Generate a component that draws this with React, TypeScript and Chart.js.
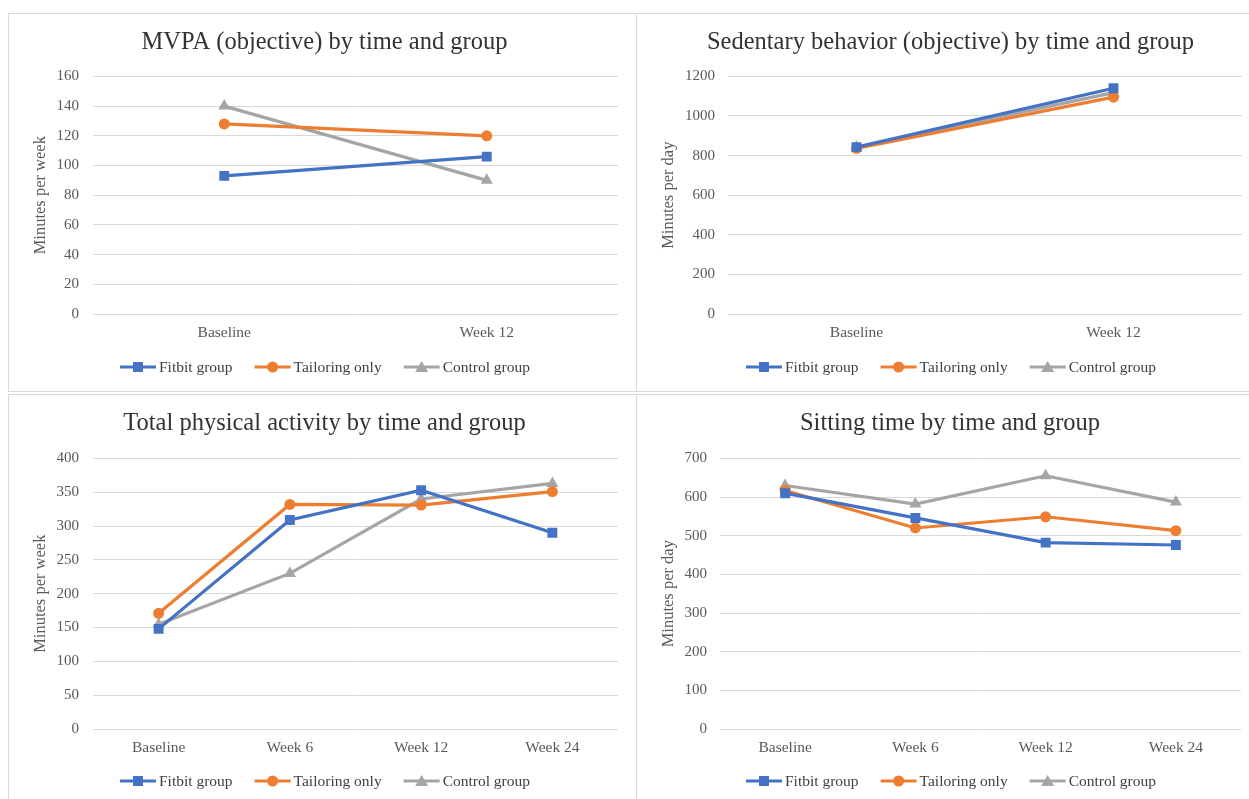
import React, { useEffect, useRef } from 'react';
import { Chart, registerables } from 'chart.js';
Chart.register(...registerables);

const seriesNames = ['Fitbit group', 'Tailoring only', 'Control group'];
const seriesColors = ['#4472C4', '#ED7D31', '#A5A5A5'];
const seriesMarkers = ['rect', 'circle', 'triangle'];
const seriesRadius = [7, 5.5, 7];

const mvpaLabels = ['Baseline', 'Week 12'];
const mvpaFitbit = [93, 106];
const mvpaTailoring = [128, 120];
const mvpaControl = [140, 90];

const sedLabels = ['Baseline', 'Week 12'];
const sedFitbit = [843, 1140];
const sedTailoring = [836, 1095];
const sedControl = [842, 1118];

const tpaLabels = ['Baseline', 'Week 6', 'Week 12', 'Week 24'];
const tpaFitbit = [148, 309, 353, 290];
const tpaTailoring = [171, 332, 331, 351];
const tpaControl = [155, 230, 340, 363];

const sitLabels = ['Baseline', 'Week 6', 'Week 12', 'Week 24'];
const sitFitbit = [610, 546, 482, 476];
const sitTailoring = [617, 520, 549, 513];
const sitControl = [630, 582, 655, 587];

const FONT = "'Liberation Serif', 'Times New Roman', serif";

function drawMarker(ctx: CanvasRenderingContext2D, i: number, cx: number, cy: number) {
  const m = seriesMarkers[i];
  ctx.fillStyle = seriesColors[i];
  ctx.beginPath();
  if (m === 'rect') {
    ctx.rect(cx - 5, cy - 5, 10, 10);
  } else if (m === 'circle') {
    ctx.arc(cx, cy, 5.5, 0, Math.PI * 2);
  } else {
    ctx.moveTo(cx, cy - 6);
    ctx.lineTo(cx + 6.5, cy + 5);
    ctx.lineTo(cx - 6.5, cy + 5);
    ctx.closePath();
  }
  ctx.fill();
}

const legendPlugin = {
  id: 'customLegend',
  afterDraw(chart: any, _args: any, opts: any) {
    const ctx: CanvasRenderingContext2D = chart.ctx;
    ctx.save();
    ctx.font = `15.5px ${FONT}`;
    const lineW = 36;
    const gapT = 3;
    const gapI = 22;
    const widths = seriesNames.map((n) => lineW + gapT + ctx.measureText(n).width);
    const total = widths.reduce((a, b) => a + b, 0) + gapI * (seriesNames.length - 1);
    let x = opts.cx - total / 2;
    const y = opts.cy;
    seriesNames.forEach((n, i) => {
      ctx.strokeStyle = seriesColors[i];
      ctx.lineWidth = 3;
      ctx.beginPath();
      ctx.moveTo(x, y);
      ctx.lineTo(x + lineW, y);
      ctx.stroke();
      drawMarker(ctx, i, x + lineW / 2, y);
      ctx.fillStyle = '#404040';
      ctx.textBaseline = 'middle';
      ctx.textAlign = 'left';
      ctx.fillText(n, x + lineW + gapT, y + 1);
      x += widths[i] + gapI;
    });
    ctx.restore();
  },
};

type PanelProps = {
  left: number;
  top: number;
  width: number;
  height: number;
  title: string;
  yTitle: string;
  labels: string[];
  data: number[][];
  yMax: number;
  yStep: number;
  yWidth: number;
  padLeft: number;
  padRight: number;
  padTop: number;
  padBottom: number;
  titleGap: number;
  tickPad: number;
  legendX: number;
  legendY: number;
};

function Panel(p: PanelProps) {
  const ref = useRef<HTMLCanvasElement | null>(null);
  useEffect(() => {
    if (!ref.current) return;
    const chart = new Chart(ref.current, {
      type: 'line',
      data: {
        labels: p.labels,
        datasets: seriesNames.map((name, i) => ({
          label: name,
          data: p.data[i],
          borderColor: seriesColors[i],
          backgroundColor: seriesColors[i],
          borderWidth: 3.2,
          pointStyle: seriesMarkers[i] as any,
          pointRadius: seriesRadius[i],
          pointBorderWidth: 0,
          pointBackgroundColor: seriesColors[i],
          tension: 0,
        })),
      },
      plugins: [legendPlugin as any],
      options: {
        animation: false,
        responsive: false,
        maintainAspectRatio: false,
        layout: { padding: { left: p.padLeft, right: p.padRight, top: p.padTop, bottom: p.padBottom } },
        plugins: {
          title: {
            display: true,
            text: p.title,
            color: '#333333',
            font: { family: FONT, size: 24.5, weight: 'normal' as any },
            padding: { top: 6, bottom: p.titleGap },
          },
          legend: { display: false },
          tooltip: { enabled: false },
          customLegend: { cx: p.legendX, cy: p.legendY },
        } as any,
        scales: {
          x: {
            offset: true,
            afterFit: (s: any) => { s.height = 28; },
            grid: { display: false, drawTicks: false },
            border: { display: false },
            ticks: { color: '#595959', font: { family: FONT, size: 15.5 }, padding: 10 },
          },
          y: {
            min: 0,
            max: p.yMax,
            afterFit: (s: any) => { s.width = p.yWidth; },
            grid: { color: '#d9d9d9', lineWidth: 1, drawTicks: false },
            border: { display: false },
            ticks: {
              stepSize: p.yStep,
              color: '#595959',
              font: { family: FONT, size: 15 },
              padding: p.tickPad,
              callback: (v: any) => String(v),
            },
            title: {
              display: true,
              text: p.yTitle,
              color: '#595959',
              font: { family: FONT, size: 16.5 },
              padding: { top: 0, bottom: 0 },
            },
          },
        },
      },
    });
    return () => chart.destroy();
  }, []);
  return (
    <div
      style={{
        position: 'absolute',
        left: p.left,
        top: p.top,
        width: p.width,
        height: p.height,
        border: '1px solid #d9d9d9',
        boxSizing: 'border-box',
        background: '#fff',
        overflow: 'hidden',
      }}
    >
      <canvas ref={ref} width={p.width - 2} height={p.height - 2} style={{ display: 'block' }} />
    </div>
  );
}

export default function App() {
  return (
    <div style={{ position: 'absolute', left: 0, top: 0, width: 1249, height: 799, background: '#fff', overflow: 'hidden' }}>
      <Panel left={8} top={13} width={629} height={379} title="MVPA (objective) by time and group" yTitle="Minutes per week"
        labels={mvpaLabels} data={[mvpaFitbit, mvpaTailoring, mvpaControl]} yMax={160} yStep={20}
        padLeft={22} yWidth={62} padRight={18} padTop={8} padBottom={49} titleGap={19} tickPad={14}
        legendX={316} legendY={353} />
      <Panel left={636} top={13} width={620} height={379} title="Sedentary behavior (objective) by time and group" yTitle="Minutes per day"
        labels={sedLabels} data={[sedFitbit, sedTailoring, sedControl]} yMax={1200} yStep={200}
        padLeft={22} yWidth={69} padRight={13} padTop={8} padBottom={49} titleGap={19} tickPad={13}
        legendX={314} legendY={353} />
      <Panel left={8} top={394} width={629} height={412} title="Total physical activity by time and group" yTitle="Minutes per week"
        labels={tpaLabels} data={[tpaFitbit, tpaTailoring, tpaControl]} yMax={400} yStep={50}
        padLeft={22} yWidth={62} padRight={18} padTop={8} padBottom={48} titleGap={20} tickPad={14}
        legendX={316} legendY={386} />
      <Panel left={636} top={394} width={620} height={412} title="Sitting time by time and group" yTitle="Minutes per day"
        labels={sitLabels} data={[sitFitbit, sitTailoring, sitControl]} yMax={700} yStep={100}
        padLeft={22} yWidth={61} padRight={14} padTop={8} padBottom={48} titleGap={20} tickPad={13}
        legendX={314} legendY={386} />
    </div>
  );
}
